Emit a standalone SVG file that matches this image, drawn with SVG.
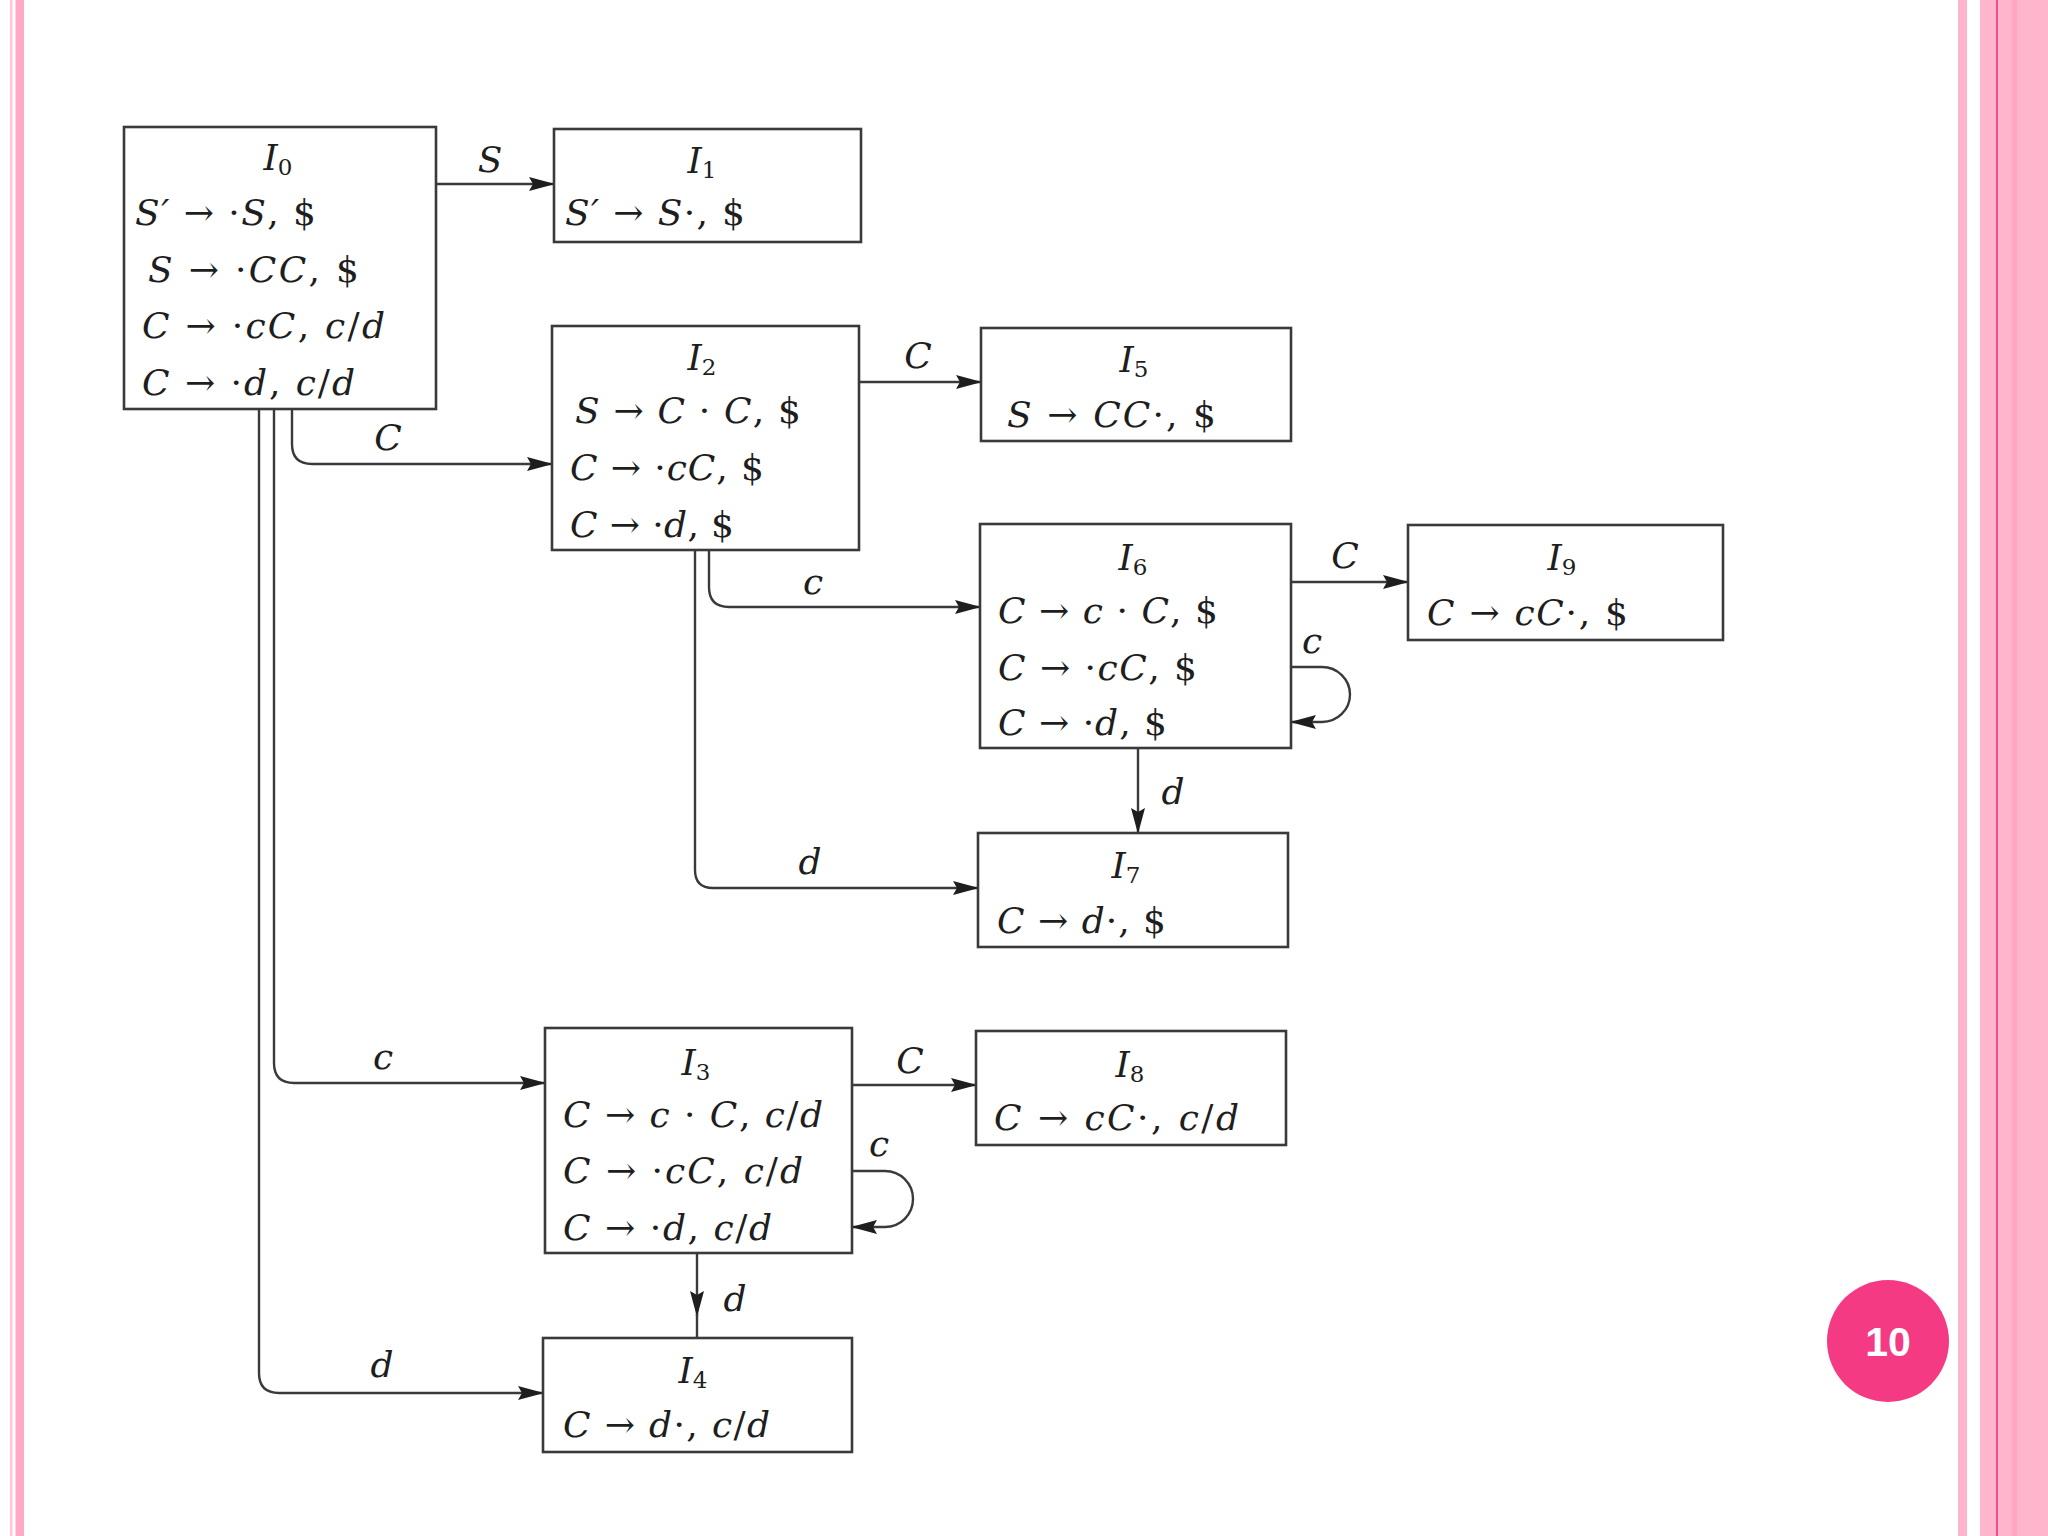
<svg xmlns="http://www.w3.org/2000/svg" width="2048" height="1536" viewBox="0 0 2048 1536">
<style>
.box{fill:#ffffff;stroke:#3a3a3a;stroke-width:2.6}
.t{font-family:"DejaVu Serif","Liberation Serif",serif;font-size:36px;font-style:italic;fill:#1e1e1e}
.up{font-style:normal}
.ar{font-style:normal}
.sub{font-style:normal;font-size:23px}
.ttl{text-anchor:middle}
.lbl{font-family:"DejaVu Serif","Liberation Serif",serif;font-size:36px;font-style:italic;fill:#1e1e1e;text-anchor:middle}
.edge{fill:none;stroke:#3a3a3a;stroke-width:2.4}
.arr{marker-end:url(#ah)}
</style>
<defs>
<marker id="ah" viewBox="0 0 26 16" refX="25" refY="8" markerWidth="26" markerHeight="16" markerUnits="userSpaceOnUse" orient="auto">
<path d="M0,1 L26,8 L0,15 L4,8 Z" fill="#1e1e1e"/>
</marker>
</defs>
<rect x="0" y="0" width="2048" height="1536" fill="#ffffff"/>
<g id="page-border">
<rect x="10" y="0" width="2.5" height="1536" fill="#ffc4d6"/>
<rect x="15.5" y="0" width="8.5" height="1536" fill="#ffa9c6"/>
<rect x="1958" y="0" width="9" height="1536" fill="#ffb6cc"/>
<rect x="1980" y="0" width="68" height="1536" fill="#ffb6cc"/>
<rect x="1996" y="0" width="2" height="1536" fill="#ee4f8c"/>
<rect x="2012" y="0" width="5" height="1536" fill="#ffa6c2"/>
</g>

<g id="connectors">
<path class="edge arr" d="M436 184 H554"/>
<path class="edge arr" d="M292 409 V444 Q292 464 312 464 H552"/>
<path class="edge arr" d="M274 409 V1063 Q274 1083 294 1083 H545"/>
<path class="edge arr" d="M259 409 V1373 Q259 1393 279 1393 H543"/>
<path class="edge arr" d="M860 382 H981"/>
<path class="edge arr" d="M709 550 V587 Q709 607 729 607 H980"/>
<path class="edge arr" d="M695 550 V870 Q695 888 713 888 H978"/>
<path class="edge arr" d="M1291 582 H1408"/>
<path class="edge arr" d="M1291 667 H1322 A28 27.5 0 0 1 1322 722 H1291"/>
<path class="edge arr" d="M1138 748 V833"/>
<path class="edge arr" d="M852 1085 H976"/>
<path class="edge arr" d="M852 1171 H885 A28 28 0 0 1 885 1227 H852"/>
<path class="edge arr" d="M697 1253 V1316"/>
<path class="edge" d="M697 1314 V1338"/>
<text class="lbl" x="490" y="172">S</text>
<text class="lbl" x="388" y="450">C</text>
<text class="lbl" x="383" y="1069">c</text>
<text class="lbl" x="382" y="1377">d</text>
<text class="lbl" x="918" y="368">C</text>
<text class="lbl" x="813" y="594">c</text>
<text class="lbl" x="810" y="874">d</text>
<text class="lbl" x="1345" y="568">C</text>
<text class="lbl" x="1312" y="653">c</text>
<text class="lbl" x="1173" y="804">d</text>
<text class="lbl" x="910" y="1073">C</text>
<text class="lbl" x="879" y="1156">c</text>
<text class="lbl" x="735" y="1311">d</text>
</g>

<g id="I0">
<rect class="box" x="124" y="127" width="312" height="282"/>
<text class="t ttl" x="278" y="170">I<tspan class="sub" dy="5">0</tspan></text>
<text class="t" x="135" y="225" textLength="181">S′ <tspan class="ar">→</tspan><tspan class="up"> ·</tspan>S<tspan class="up">, $</tspan></text>
<text class="t" x="148" y="282" textLength="211">S <tspan class="ar">→</tspan><tspan class="up"> ·</tspan>CC<tspan class="up">, $</tspan></text>
<text class="t" x="142" y="338" textLength="243">C <tspan class="ar">→</tspan><tspan class="up"> ·</tspan>cC<tspan class="up">, </tspan>c<tspan class="up">/</tspan>d</text>
<text class="t" x="142" y="395" textLength="213">C <tspan class="ar">→</tspan><tspan class="up"> ·</tspan>d<tspan class="up">, </tspan>c<tspan class="up">/</tspan>d</text>
</g>

<g id="I1">
<rect class="box" x="554" y="129" width="307" height="113"/>
<text class="t ttl" x="702" y="173">I<tspan class="sub" dy="5">1</tspan></text>
<text class="t" x="565" y="225" textLength="180">S′ <tspan class="ar">→</tspan><tspan class="up"> </tspan>S<tspan class="up">·, $</tspan></text>
</g>

<g id="I2">
<rect class="box" x="552" y="326" width="307" height="224"/>
<text class="t ttl" x="702" y="370">I<tspan class="sub" dy="5">2</tspan></text>
<text class="t" x="575" y="423" textLength="226">S <tspan class="ar">→</tspan><tspan class="up"> </tspan>C <tspan class="up">· </tspan>C<tspan class="up">, $</tspan></text>
<text class="t" x="570" y="480" textLength="194">C <tspan class="ar">→</tspan><tspan class="up"> ·</tspan>cC<tspan class="up">, $</tspan></text>
<text class="t" x="570" y="537" textLength="164">C <tspan class="ar">→</tspan><tspan class="up"> ·</tspan>d<tspan class="up">, $</tspan></text>
</g>

<g id="I5">
<rect class="box" x="981" y="328" width="310" height="113"/>
<text class="t ttl" x="1134" y="372">I<tspan class="sub" dy="5">5</tspan></text>
<text class="t" x="1007" y="427" textLength="209">S <tspan class="ar">→</tspan><tspan class="up"> </tspan>CC<tspan class="up">·, $</tspan></text>
</g>

<g id="I6">
<rect class="box" x="980" y="524" width="311" height="224"/>
<text class="t ttl" x="1133" y="570">I<tspan class="sub" dy="5">6</tspan></text>
<text class="t" x="998" y="623" textLength="220">C <tspan class="ar">→</tspan><tspan class="up"> </tspan>c <tspan class="up">· </tspan>C<tspan class="up">, $</tspan></text>
<text class="t" x="998" y="680" textLength="199">C <tspan class="ar">→</tspan><tspan class="up"> ·</tspan>cC<tspan class="up">, $</tspan></text>
<text class="t" x="998" y="735" textLength="169">C <tspan class="ar">→</tspan><tspan class="up"> ·</tspan>d<tspan class="up">, $</tspan></text>
</g>

<g id="I9">
<rect class="box" x="1408" y="525" width="315" height="115"/>
<text class="t ttl" x="1562" y="570">I<tspan class="sub" dy="5">9</tspan></text>
<text class="t" x="1427" y="625" textLength="201">C <tspan class="ar">→</tspan><tspan class="up"> </tspan>cC<tspan class="up">·, $</tspan></text>
</g>

<g id="I7">
<rect class="box" x="978" y="833" width="310" height="114"/>
<text class="t ttl" x="1126" y="878">I<tspan class="sub" dy="5">7</tspan></text>
<text class="t" x="997" y="933" textLength="169">C <tspan class="ar">→</tspan><tspan class="up"> </tspan>d<tspan class="up">·, $</tspan></text>
</g>

<g id="I3">
<rect class="box" x="545" y="1028" width="307" height="225"/>
<text class="t ttl" x="696" y="1075">I<tspan class="sub" dy="5">3</tspan></text>
<text class="t" x="563" y="1127" textLength="260">C <tspan class="ar">→</tspan><tspan class="up"> </tspan>c <tspan class="up">· </tspan>C<tspan class="up">, </tspan>c<tspan class="up">/</tspan>d</text>
<text class="t" x="563" y="1183" textLength="240">C <tspan class="ar">→</tspan><tspan class="up"> ·</tspan>cC<tspan class="up">, </tspan>c<tspan class="up">/</tspan>d</text>
<text class="t" x="563" y="1240" textLength="209">C <tspan class="ar">→</tspan><tspan class="up"> ·</tspan>d<tspan class="up">, </tspan>c<tspan class="up">/</tspan>d</text>
</g>

<g id="I8">
<rect class="box" x="976" y="1031" width="310" height="114"/>
<text class="t ttl" x="1130" y="1077">I<tspan class="sub" dy="5">8</tspan></text>
<text class="t" x="994" y="1130" textLength="245">C <tspan class="ar">→</tspan><tspan class="up"> </tspan>cC<tspan class="up">·, </tspan>c<tspan class="up">/</tspan>d</text>
</g>

<g id="I4">
<rect class="box" x="543" y="1338" width="309" height="114"/>
<text class="t ttl" x="693" y="1383">I<tspan class="sub" dy="5">4</tspan></text>
<text class="t" x="563" y="1437" textLength="207">C <tspan class="ar">→</tspan><tspan class="up"> </tspan>d<tspan class="up">·, </tspan>c<tspan class="up">/</tspan>d</text>
</g>

<g id="page-number">
<circle cx="1888" cy="1341" r="61" fill="#f43a82"/>
<text x="1888" y="1356" text-anchor="middle" font-family="Liberation Sans, Arial, sans-serif" font-weight="bold" font-size="41" fill="#ffffff">10</text>
</g>
</svg>
